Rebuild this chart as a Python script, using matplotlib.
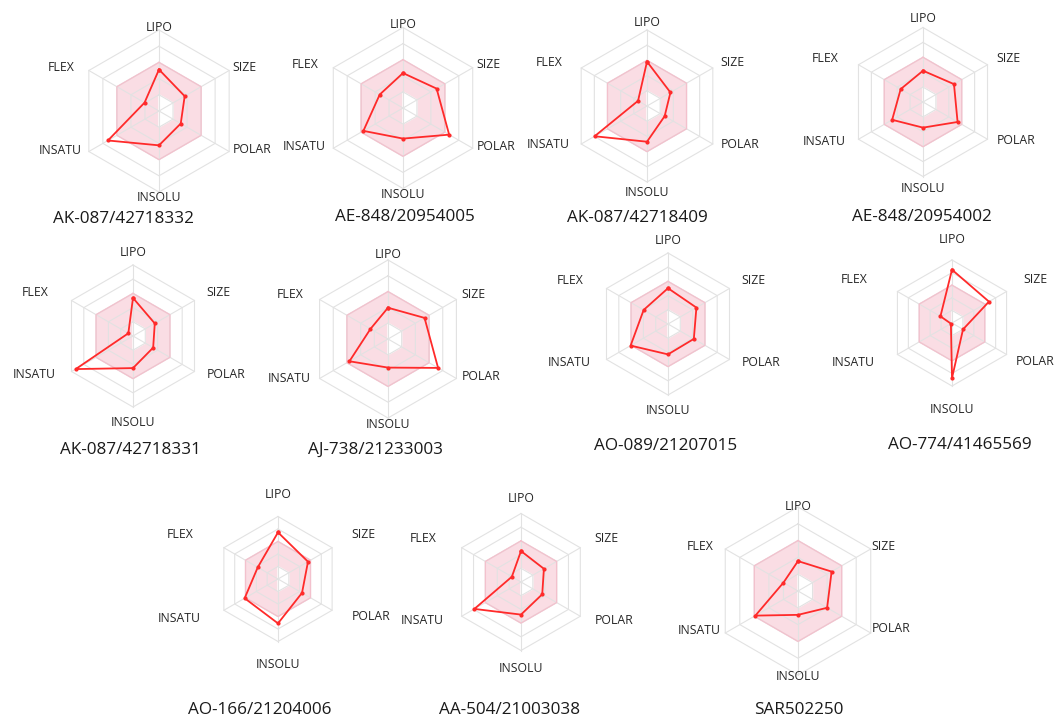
import numpy as np
import matplotlib.pyplot as plt

plt.rcParams['font.family'] = ['Open Sans', 'DejaVu Sans']

# compounds and their radar values (0 = centre, grid rings at 1..5)
names = ['AK-087/42718332', 'AE-848/20954005', 'AK-087/42718409', 'AE-848/20954002',
         'AK-087/42718331', 'AJ-738/21233003', 'AO-089/21207015', 'AO-774/41465569',
         'AO-166/21204006', 'AA-504/21003038', 'SAR502250']
axes_names = ['LIPO', 'SIZE', 'POLAR', 'INSOLU', 'INSATU', 'FLEX']
lipo = [2.56, 2.17, 2.92, 2.10, 2.68, 1.98, 2.52, 4.23, 3.73, 2.26, 1.78]
size = [1.83, 2.41, 1.78, 2.40, 1.77, 2.67, 2.31, 3.39, 2.77, 1.93, 2.31]
polar = [1.55, 3.31, 1.34, 2.68, 1.64, 3.66, 2.10, 1.01, 2.22, 1.79, 2.00]
insolu = [2.12, 1.90, 2.35, 1.72, 2.26, 1.81, 2.14, 4.37, 3.55, 2.38, 1.42]
insatu = [3.64, 2.84, 3.98, 2.39, 4.66, 2.82, 3.04, 0.10, 3.08, 3.93, 2.93]
flex = [1.03, 1.67, 0.68, 1.73, 0.38, 1.28, 1.98, 1.06, 1.87, 0.77, 1.00]

# optimal range band: inner and outer limits per axis
band_in = [1, 1, 1, 1, 0, 0]
band_out = [3, 3, 3, 3, 3, 3]

# panel layout in pixels (centre, pixels per unit, title position)
W, H = 1057, 722
centers = [(159, 111), (403, 108), (647, 106), (923, 102), (133, 336), (388, 339),
           (668, 324), (952, 323), (278, 579), (521, 582), (798, 591)]
units = [16.2, 16.1, 15.2, 14.9, 14.2, 15.8, 14.2, 12.6, 12.5, 13.7, 16.8]
title_pos = [(123, 219), (405, 217), (637, 218), (922, 217), (130, 450), (376, 450),
             (666, 446), (960, 445), (260, 710), (510, 710), (799, 710)]
label_off = [(0, 84), (85, 44), (93, -38), (0, -86), (-99, -39), (-98, 44)]

ang = np.deg2rad([90, 30, -30, -90, -150, 150])

def xy(r):
    r = np.asarray(r, dtype=float)
    x = r * np.cos(ang)
    y = r * np.sin(ang)
    return np.append(x, x[0]), np.append(y, y[0])

fig = plt.figure(figsize=(W / 100, H / 100), dpi=100)

for i in range(len(names)):
    cx, cy = centers[i]
    u = units[i]
    half = 110
    ax = fig.add_axes([(cx - half) / W, 1 - (cy + half) / H, 2 * half / W, 2 * half / H])
    lim = half / u
    ax.set_xlim(-lim, lim)
    ax.set_ylim(-lim, lim)
    ax.set_aspect('equal')
    ax.axis('off')

    # pink optimal band
    ox, oy = xy(band_out)
    ix, iy = xy(band_in)
    ax.fill(ox, oy, color='#fadde4', zorder=1)
    ax.fill(ix, iy, color='white', zorder=1.5)
    ax.plot(ox, oy, color='#f3c1cd', lw=0.9, zorder=2.5)

    # hexagonal grid
    for ring in range(1, 6):
        gx, gy = xy([ring] * 6)
        ax.plot(gx, gy, color='#e2e2e2', lw=0.8, zorder=2)
    for a in ang:
        ax.plot([0, 5 * np.cos(a)], [0, 5 * np.sin(a)], color='#e2e2e2', lw=0.8, zorder=2)

    vals = [lipo[i], size[i], polar[i], insolu[i], insatu[i], flex[i]]
    px, py = xy(vals)
    ax.plot(px, py, color='#ff2a2a', lw=1.3, marker='o', ms=2, zorder=3)

    for name, (dx, dy) in zip(axes_names, label_off):
        # keep labels inside the figure
        dx = min(dx, W - 22 - cx) if dx > 0 else dx
        ax.text(dx / u, dy / u, name, ha='center', va='center', fontsize=8.8,
                color='#262626', clip_on=False)

    tx, ty = title_pos[i]
    fig.text(tx / W, 1 - ty / H, names[i], ha='center', va='center', fontsize=12.3,
             color='#1a1a1a')

fig.savefig('out.png', dpi=100)
